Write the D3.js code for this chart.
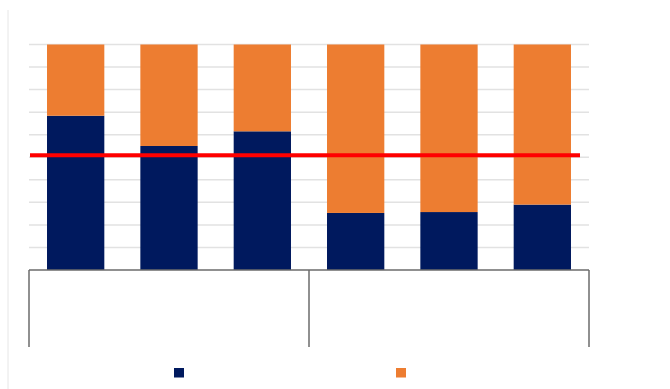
<!DOCTYPE html>
<html><head><meta charset="utf-8">
<script src="https://cdn.jsdelivr.net/npm/d3@7"></script>
<style>html,body{margin:0;padding:0;background:#fff;overflow:hidden}</style>
</head><body>
<svg id="c" width="670" height="389"></svg>
<script>
const categories = ["1", "2", "3", "4", "5", "6"];
const groups = [{name: "", members: ["1", "2", "3"]}, {name: "", members: ["4", "5", "6"]}];
const seriesNames = ["Series 1", "Series 2"];
const series1 = [0.684, 0.550, 0.615, 0.253, 0.257, 0.290];
const series2 = series1.map(v => 1 - v); // 100% stacked remainder
const referenceValue = 0.509;
const yTicks = [0, 0.1, 0.2, 0.3, 0.4, 0.5, 0.6, 0.7, 0.8, 0.9, 1.0];
const colors = ["#00195e", "#ed7d31"];

const svg = d3.select("#c");
const L = 29, R = 589, T = 44.5, B = 270;
const x = d3.scaleBand().domain(categories).range([L, R]).paddingInner(0.386).paddingOuter(0.193);
const y = d3.scaleLinear().domain([0, 1]).range([B, T]);

// faint left border line
svg.append("line").attr("x1", 8).attr("x2", 8).attr("y1", 10).attr("y2", 389)
  .attr("stroke", "#e6e6e6").attr("stroke-width", 1);

// gridlines
svg.append("g").selectAll("line").data(yTicks.slice(1)).join("line")
  .attr("x1", L).attr("x2", R)
  .attr("y1", d => y(d)).attr("y2", d => y(d))
  .attr("stroke", "#e2e2e2").attr("stroke-width", 1.5);

// stacked bars
const rows = categories.map((c, i) => ({cat: c, s1: series1[i], s2: series2[i]}));
const stack = d3.stack().keys(["s1", "s2"])(rows);
svg.append("g").selectAll("g").data(stack).join("g")
  .attr("fill", (d, i) => colors[i])
  .selectAll("rect").data(d => d).join("rect")
  .attr("x", d => x(d.data.cat))
  .attr("width", x.bandwidth())
  .attr("y", d => y(d[1]))
  .attr("height", d => y(d[0]) - y(d[1]));

// reference line
svg.append("line").attr("x1", L + 1).attr("x2", 580)
  .attr("y1", y(referenceValue)).attr("y2", y(referenceValue))
  .attr("stroke", "#ff0000").attr("stroke-width", 4);

// category axis baseline + group separators
const axisColor = "#6b6b6b";
svg.append("line").attr("x1", L).attr("x2", R).attr("y1", B).attr("y2", B)
  .attr("stroke", axisColor).attr("stroke-width", 1.5);
const step = x.step();
const seps = [L];
let idx = 0;
groups.forEach(g => { idx += g.members.length; seps.push(L + step * idx); });
seps[seps.length - 1] = R;
svg.append("g").selectAll("line").data(seps).join("line")
  .attr("x1", d => d).attr("x2", d => d).attr("y1", B).attr("y2", 347)
  .attr("stroke", axisColor).attr("stroke-width", 1.5);

// legend
const legendX = [174, 396];
seriesNames.forEach((n, i) => {
  svg.append("rect").attr("x", legendX[i]).attr("y", 368).attr("width", 10).attr("height", 9.5)
    .attr("fill", colors[i]);
});
</script>
</body></html>
